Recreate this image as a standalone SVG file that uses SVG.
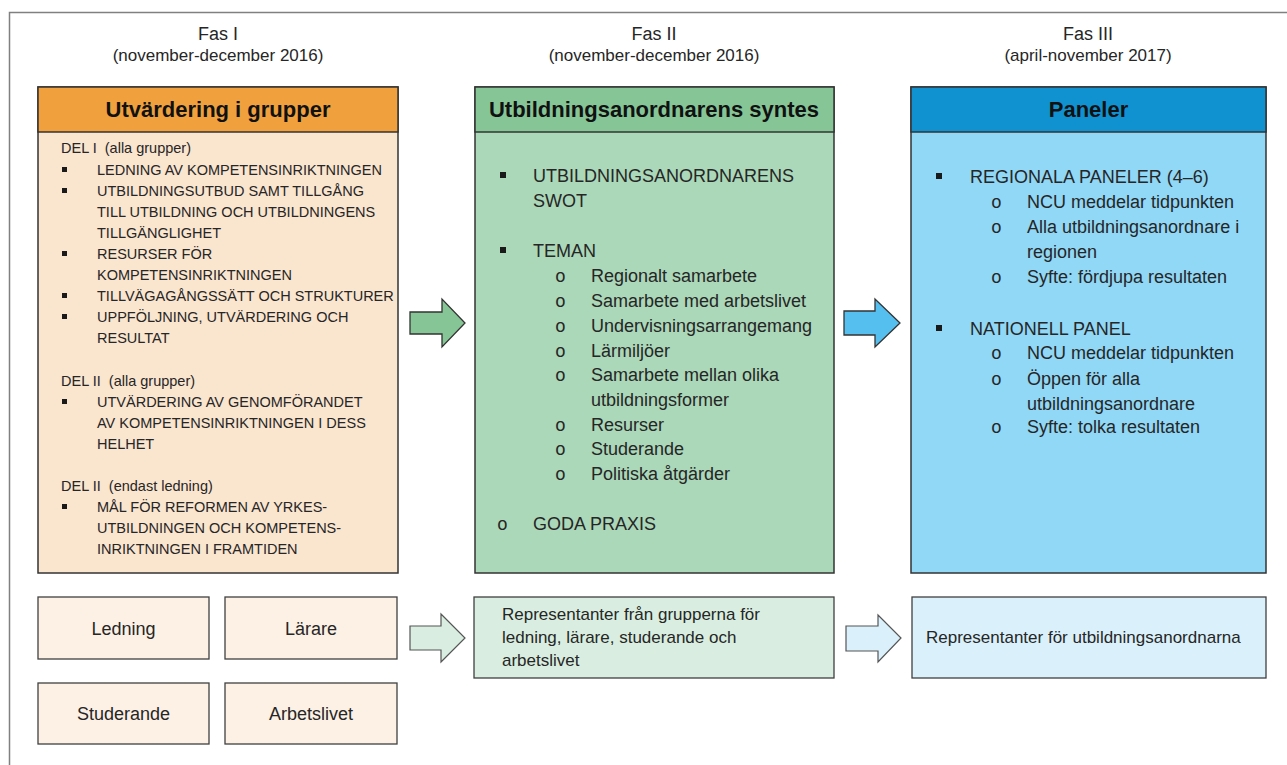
<svg xmlns="http://www.w3.org/2000/svg" width="1287" height="765" viewBox="0 0 1287 765">
<defs>
<style>
text{font-family:"Liberation Sans",Arial,sans-serif;fill:#262626}
.phase{font-size:18px;text-anchor:middle}
.date{font-size:17px;text-anchor:middle}
.hdr{font-size:22px;font-weight:bold;text-anchor:middle;fill:#111}
.l{font-size:14.5px;white-space:pre}
.m{font-size:18px}
.o{font-family:"Liberation Mono","Courier New",monospace}
.b{fill:#1a1a1a}
.box{stroke:#333;stroke-width:1.5}
.sbox{stroke:#404040;stroke-width:1.3}
.c{font-size:18px;text-anchor:middle}
.s{font-size:17px}
.arr{stroke:#333;stroke-width:1.3;stroke-linejoin:miter}
.arr2{stroke:#555;stroke-width:1.2;stroke-linejoin:miter}
</style>
</defs>
<rect width="1287" height="765" fill="#fff"/>
<rect id="frame" x="9.5" y="12.5" width="1300" height="800" fill="none" stroke="#808080" stroke-width="1.5"/>

<g id="phase-labels">
<text class="phase" x="218" y="40">Fas I</text>
<text class="date" x="218" y="61">(november-december 2016)</text>
<text class="phase" x="654" y="40">Fas II</text>
<text class="date" x="654" y="61">(november-december 2016)</text>
<text class="phase" x="1088" y="40">Fas III</text>
<text class="date" x="1088" y="61">(april-november 2017)</text>
</g>

<g id="panel-fas1">
<rect class="box" x="38" y="87" width="360" height="486" fill="#FAE5CF"/>
<rect class="box" x="38" y="87" width="360" height="45" fill="#F0A13E"/>
<text class="hdr" x="218" y="117">Utvärdering i grupper</text>
<text class="l" x="61" y="153" xml:space="preserve">DEL I  (alla grupper)</text>
<rect class="b" x="62" y="167" width="5" height="5"/><text class="l" x="97" y="175">LEDNING AV KOMPETENSINRIKTNINGEN</text>
<rect class="b" x="62" y="188" width="5" height="5"/><text class="l" x="97" y="196">UTBILDNINGSUTBUD SAMT TILLGÅNG</text>
<text class="l" x="97" y="217">TILL UTBILDNING OCH UTBILDNINGENS</text>
<text class="l" x="97" y="238">TILLGÄNGLIGHET</text>
<rect class="b" x="62" y="251" width="5" height="5"/><text class="l" x="97" y="259">RESURSER FÖR</text>
<text class="l" x="97" y="280">KOMPETENSINRIKTNINGEN</text>
<rect class="b" x="62" y="293" width="5" height="5"/><text class="l" x="97" y="301">TILLVÄGAGÅNGSSÄTT OCH STRUKTURER</text>
<rect class="b" x="62" y="314" width="5" height="5"/><text class="l" x="97" y="322">UPPFÖLJNING, UTVÄRDERING OCH</text>
<text class="l" x="97" y="343">RESULTAT</text>
<text class="l" x="61" y="386" xml:space="preserve">DEL II  (alla grupper)</text>
<rect class="b" x="62" y="399" width="5" height="5"/><text class="l" x="97" y="407">UTVÄRDERING AV GENOMFÖRANDET</text>
<text class="l" x="97" y="428">AV KOMPETENSINRIKTNINGEN I DESS</text>
<text class="l" x="97" y="449">HELHET</text>
<text class="l" x="61" y="491" xml:space="preserve">DEL II  (endast ledning)</text>
<rect class="b" x="62" y="504" width="5" height="5"/><text class="l" x="97" y="512">MÅL FÖR REFORMEN AV YRKES-</text>
<text class="l" x="97" y="533">UTBILDNINGEN OCH KOMPETENS-</text>
<text class="l" x="97" y="554">INRIKTNINGEN I FRAMTIDEN</text>
</g>

<g id="panel-fas2">
<rect class="box" x="475" y="87" width="359" height="486" fill="#ABD8B9"/>
<rect class="box" x="475" y="87" width="359" height="45" fill="#85C596"/>
<text class="hdr" x="654" y="117">Utbildningsanordnarens syntes</text>
<rect class="b" x="500" y="172" width="6" height="6"/><text class="m" x="533" y="182">UTBILDNINGSANORDNARENS</text>
<text class="m" x="533" y="207">SWOT</text>
<rect class="b" x="500" y="247" width="6" height="6"/><text class="m" x="533" y="257">TEMAN</text>
<text class="m o" x="555" y="282">o</text><text class="m" x="591" y="282">Regionalt samarbete</text>
<text class="m o" x="555" y="307">o</text><text class="m" x="591" y="307">Samarbete med arbetslivet</text>
<text class="m o" x="555" y="332">o</text><text class="m" x="591" y="332">Undervisningsarrangemang</text>
<text class="m o" x="555" y="357">o</text><text class="m" x="591" y="357">Lärmiljöer</text>
<text class="m o" x="555" y="381">o</text><text class="m" x="591" y="381">Samarbete mellan olika</text>
<text class="m" x="591" y="406">utbildningsformer</text>
<text class="m o" x="555" y="431">o</text><text class="m" x="591" y="431">Resurser</text>
<text class="m o" x="555" y="455">o</text><text class="m" x="591" y="455">Studerande</text>
<text class="m o" x="555" y="480">o</text><text class="m" x="591" y="480">Politiska åtgärder</text>
<text class="m o" x="497" y="530">o</text><text class="m" x="533" y="530">GODA PRAXIS</text>
</g>

<g id="panel-fas3">
<rect class="box" x="911" y="87" width="355" height="486" fill="#90D8F6"/>
<rect class="box" x="911" y="87" width="355" height="45" fill="#1092D1"/>
<text class="hdr" x="1088.5" y="117">Paneler</text>
<rect class="b" x="936" y="173" width="6" height="6"/><text class="m" x="970" y="183">REGIONALA PANELER (4–6)</text>
<text class="m o" x="991" y="208">o</text><text class="m" x="1027" y="208">NCU meddelar tidpunkten</text>
<text class="m o" x="991" y="233">o</text><text class="m" x="1027" y="233">Alla utbildningsanordnare i</text>
<text class="m" x="1027" y="258">regionen</text>
<text class="m o" x="991" y="283">o</text><text class="m" x="1027" y="283">Syfte: fördjupa resultaten</text>
<rect class="b" x="936" y="325" width="6" height="6"/><text class="m" x="970" y="335">NATIONELL PANEL</text>
<text class="m o" x="991" y="359">o</text><text class="m" x="1027" y="359">NCU meddelar tidpunkten</text>
<text class="m o" x="991" y="385">o</text><text class="m" x="1027" y="385">Öppen för alla</text>
<text class="m" x="1027" y="410">utbildningsanordnare</text>
<text class="m o" x="991" y="433">o</text><text class="m" x="1027" y="433">Syfte: tolka resultaten</text>
</g>

<g id="box-ledning">
<rect class="sbox" x="38" y="597" width="171" height="62" fill="#FDF1E5"/>
<text class="c" x="123.5" y="635">Ledning</text>
</g>
<g id="box-larare">
<rect class="sbox" x="225" y="597" width="172" height="62" fill="#FDF1E5"/>
<text class="c" x="311" y="635">Lärare</text>
</g>
<g id="box-studerande">
<rect class="sbox" x="38" y="683" width="171" height="61" fill="#FDF1E5"/>
<text class="c" x="123.5" y="720">Studerande</text>
</g>
<g id="box-arbetslivet">
<rect class="sbox" x="225" y="683" width="172" height="61" fill="#FDF1E5"/>
<text class="c" x="311" y="720">Arbetslivet</text>
</g>
<g id="box-representanter-grupper">
<rect class="sbox" x="474" y="597" width="360" height="81" fill="#D9EEE0"/>
<text class="s" x="502" y="620">Representanter från grupperna för</text>
<text class="s" x="502" y="643">ledning, lärare, studerande och</text>
<text class="s" x="502" y="666">arbetslivet</text>
</g>
<g id="box-representanter-anordnare">
<rect class="sbox" x="912" y="597" width="354" height="81" fill="#DAF1FB"/>
<text class="s" x="926" y="643">Representanter för utbildningsanordnarna</text>
</g>

<g id="connectors">
<path class="arr" d="M410,312 L442,312 L442,299 L465,323 L442,347 L442,334 L410,334 Z" fill="#85C596"/>
<path class="arr" d="M844,311 L875,311 L875,299 L900,323 L875,347 L875,335 L844,335 Z" fill="#55BFEF"/>
<path class="arr2" d="M410,626 L441,626 L441,614 L465,638 L441,662 L441,650 L410,650 Z" fill="#D9EEE0"/>
<path class="arr2" d="M846,626 L878,626 L878,615 L901,638 L878,662 L878,651 L846,651 Z" fill="#DAF1FB"/>
</g>
</svg>
